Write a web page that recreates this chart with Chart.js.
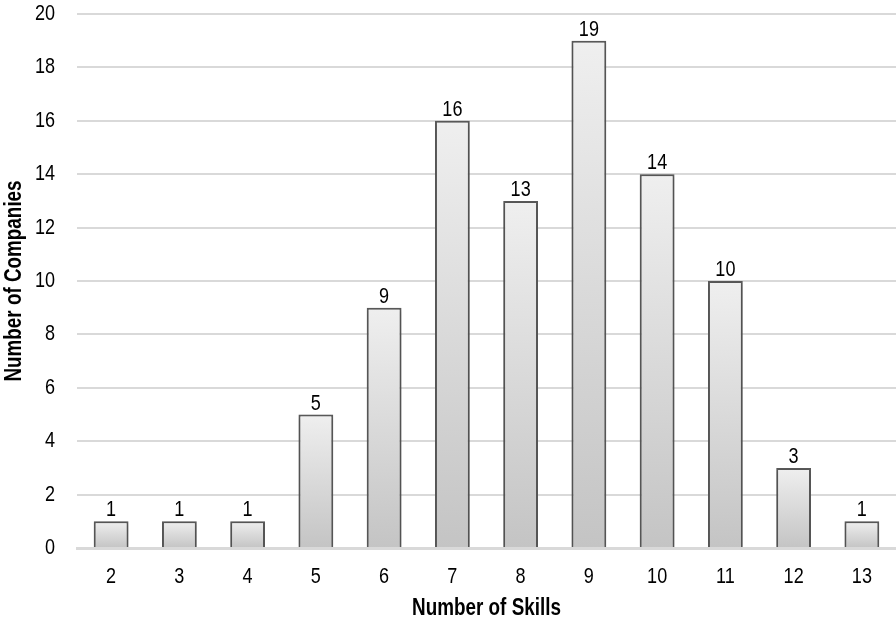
<!DOCTYPE html>
<html>
<head>
<meta charset="utf-8">
<script src="https://cdn.jsdelivr.net/npm/chart.js@4.4.1/dist/chart.umd.min.js"></script>
<style>
  html, body { margin: 0; padding: 0; background: #fff; }
  #wrap { width: 896px; height: 627px; }
</style>
</head>
<body>
<div id="wrap"><canvas id="barChart"></canvas></div>
<script>
var skills = ['2', '3', '4', '5', '6', '7', '8', '9', '10', '11', '12', '13'];
var companies = [1, 1, 1, 5, 9, 16, 13, 19, 14, 10, 3, 1];
var yTicks = [0, 2, 4, 6, 8, 10, 12, 14, 16, 18, 20];

var xTitle = 'Number of Skills';
var yTitle = 'Number of Companies';

// Liberation Sans squeezed sideways stands in for a narrow face
var fontFamily = "'Liberation Sans', Arial, sans-serif";
var narrow = 0.82;

function narrowText(ctx, text, x, y, align, rotate) {
    ctx.save();
    ctx.translate(x, y);
    if (rotate) ctx.rotate(rotate);
    ctx.scale(narrow, 1);
    ctx.textAlign = align;
    ctx.fillText(text, 0, 0);
    ctx.restore();
}

// vertical gradient per bar, light on top, grey at the base
function barFill(context) {
    var chart = context.chart;
    var yScale = chart.scales.y;
    if (!chart.chartArea || !yScale) return '#dddddd';
    var top = yScale.getPixelForValue(companies[context.dataIndex]);
    var base = yScale.getPixelForValue(0);
    if (!isFinite(top) || !isFinite(base) || top === base) return '#dddddd';
    var g = chart.ctx.createLinearGradient(0, top, 0, base);
    g.addColorStop(0, '#efefef');
    g.addColorStop(1, '#c4c4c4');
    return g;
}

// soft shadow under the bars
var barShadow = {
    id: 'barShadow',
    beforeDatasetsDraw: function (chart) {
        var ctx = chart.ctx;
        ctx.save();
        ctx.shadowColor = 'rgba(0, 0, 0, 0.22)';
        ctx.shadowBlur = 4;
        ctx.shadowOffsetX = 0;
        ctx.shadowOffsetY = 1;
    },
    afterDatasetsDraw: function (chart) {
        chart.ctx.restore();
    }
};

// tick labels, axis titles and the value above each bar
var textLayer = {
    id: 'textLayer',
    afterDraw: function (chart) {
        var ctx = chart.ctx;
        var xs = chart.scales.x;
        var ys = chart.scales.y;
        var area = chart.chartArea;
        ctx.save();
        ctx.fillStyle = '#000';

        ctx.font = '22px ' + fontFamily;
        ctx.textBaseline = 'middle';
        yTicks.forEach(function (v) {
            narrowText(ctx, String(v), 55, ys.getPixelForValue(v), 'right');
        });
        skills.forEach(function (s, i) {
            narrowText(ctx, s, xs.getPixelForValue(i), area.bottom + 29, 'center');
        });

        ctx.textBaseline = 'alphabetic';
        var meta = chart.getDatasetMeta(0);
        meta.data.forEach(function (bar, i) {
            narrowText(ctx, String(companies[i]), bar.x, bar.y - 5, 'center');
        });

        ctx.font = 'bold 23px ' + fontFamily;
        ctx.textBaseline = 'middle';
        narrowText(ctx, xTitle, (area.left + area.right) / 2, area.bottom + 61, 'center');
        narrowText(ctx, yTitle, 15, (area.top + area.bottom) / 2, 'center', -Math.PI / 2);
        ctx.restore();
    }
};

new Chart(document.getElementById('barChart').getContext('2d'), {
    type: 'bar',
    data: {
        labels: skills,
        datasets: [{
            data: companies,
            backgroundColor: barFill,
            borderColor: '#5a5a5a',
            borderWidth: 2,
            borderSkipped: 'bottom',
            categoryPercentage: 1,
            barPercentage: 0.51
        }]
    },
    options: {
        responsive: true,
        maintainAspectRatio: false,
        animation: false,
        layout: { padding: { top: 14, right: 0, left: 77, bottom: 79 } },
        plugins: {
            legend: { display: false },
            tooltip: { enabled: false }
        },
        scales: {
            x: {
                grid: { display: false, drawTicks: false },
                border: { display: true, color: '#d9d9d9', width: 3 },
                ticks: { display: false }
            },
            y: {
                min: 0,
                max: 20,
                afterBuildTicks: function (axis) {
                    axis.ticks = yTicks.map(function (v) { return { value: v }; });
                },
                grid: { color: '#d9d9d9', lineWidth: 2, drawTicks: false },
                border: { display: false },
                ticks: { display: false }
            }
        }
    },
    plugins: [barShadow, textLayer]
});
</script>
</body>
</html>
